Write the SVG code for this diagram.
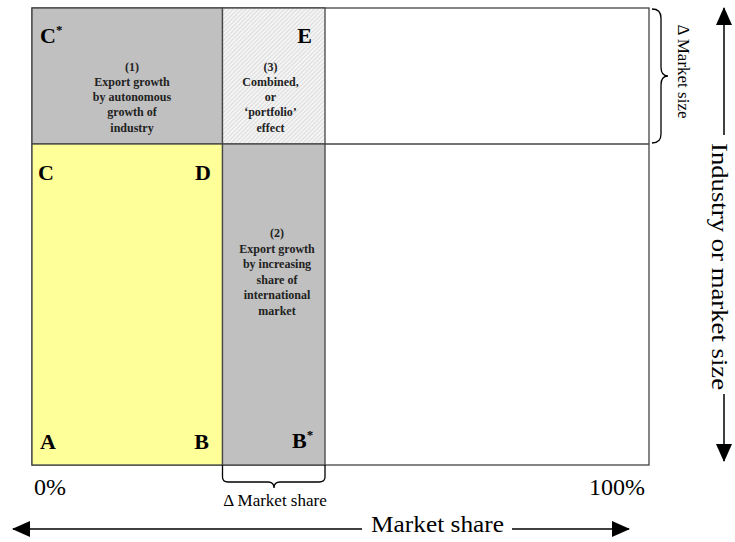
<svg xmlns="http://www.w3.org/2000/svg" width="735" height="542" viewBox="0 0 735 542">
<style>
.big{font-family:"Liberation Serif",serif;font-weight:bold;font-size:22px;fill:#000}
.sup{font-size:13px}
.sm{font-family:"Liberation Serif",serif;font-weight:bold;font-size:12px;fill:#222;text-anchor:middle}
.ax{font-family:"Liberation Serif",serif;font-size:24px;fill:#000}
.lbl{font-family:"Liberation Serif",serif;font-size:17px;fill:#000}
.cell{stroke:#444;stroke-width:1.3}
.ln{stroke:#000;stroke-width:1.5;fill:none}
.br{stroke:#000;stroke-width:1.3;fill:none}
</style>
<defs>
<pattern id="hatch" width="3" height="3" patternUnits="userSpaceOnUse" patternTransform="rotate(45)">
<rect width="3" height="3" fill="#f4f4f4"/>
<line x1="0" y1="0" x2="0" y2="3" stroke="#c4c4c4" stroke-width="1"/>
</pattern>
<marker id="ah" markerWidth="18" markerHeight="18" refX="17" refY="9" orient="auto" markerUnits="userSpaceOnUse" viewBox="0 0 18 18">
<path d="M0,1 L18,9 L0,17 z" fill="#000"/>
</marker>
</defs>
<rect x="0" y="0" width="735" height="542" fill="#fff"/>
<g id="grid">
<rect id="r-outer" class="cell" x="32" y="8" width="617" height="457" fill="#fff"/>
<rect id="r1" class="cell" x="32" y="8" width="190.5" height="136" fill="#c0c0c0"/>
<rect id="r3" class="cell" x="222.5" y="8" width="102.5" height="136" fill="url(#hatch)"/>
<rect id="rABCD" class="cell" x="32" y="144" width="190.5" height="321" fill="#ffff99"/>
<rect id="r2" class="cell" x="222.5" y="144" width="102.5" height="321" fill="#c0c0c0"/>
<line class="cell" x1="325" y1="144" x2="649" y2="144"/>
</g>
<g id="labels">
<text class="big" x="40" y="43">C<tspan class="sup" dy="-9">*</tspan></text>
<text class="big" x="312" y="43" text-anchor="end">E</text>
<text class="big" x="38" y="180">C</text>
<text class="big" x="211" y="180" text-anchor="end">D</text>
<text class="big" x="40" y="449">A</text>
<text class="big" x="209" y="449" text-anchor="end">B</text>
<text class="big" x="292" y="448">B<tspan class="sup" dy="-9">*</tspan></text>
</g>
<g id="n1">
<text class="sm" x="132" y="71">(1)</text>
<text class="sm" x="132" y="86">Export growth</text>
<text class="sm" x="132" y="101">by autonomous</text>
<text class="sm" x="132" y="116">growth of</text>
<text class="sm" x="132" y="132">industry</text>
</g>
<g id="n3">
<text class="sm" x="270.5" y="71">(3)</text>
<text class="sm" x="270.5" y="86">Combined,</text>
<text class="sm" x="270.5" y="101">or</text>
<text class="sm" x="270.5" y="116">‘portfolio’</text>
<text class="sm" x="270.5" y="132">effect</text>
</g>
<g id="n2">
<text class="sm" x="277" y="237">(2)</text>
<text class="sm" x="277" y="253">Export growth</text>
<text class="sm" x="277" y="268">by increasing</text>
<text class="sm" x="277" y="284">share of</text>
<text class="sm" x="277" y="299">international</text>
<text class="sm" x="277" y="315">market</text>
</g>
<g id="axes">
<text class="ax" x="34" y="495">0%</text>
<text class="ax" x="645" y="495" text-anchor="end">100%</text>
<text class="lbl" x="275" y="506" text-anchor="middle">Δ Market share</text>
<text class="ax" x="437.5" y="532" font-size="25" text-anchor="middle" textLength="133" lengthAdjust="spacingAndGlyphs">Market share</text>
<text class="lbl" transform="translate(678,71.5) rotate(90)" text-anchor="middle">Δ Market size</text>
<text class="ax" transform="translate(712,266.5) rotate(90)" font-size="22" text-anchor="middle" textLength="247" lengthAdjust="spacingAndGlyphs">Industry or market size</text>
</g>
<g id="connectors">
<path class="br" d="M222.5,465 L222.5,477 Q222.5,482 228,482 L268,482 Q274,482 274,488 Q274,482 280,482 L319,482 Q325,482 325,477 L325,465"/>
<path class="br" d="M652,9 Q661,9 661,18 L661,67 Q661,76 668,76 Q661,76 661,85 L661,134 Q661,143 652,143"/>
<line class="ln" x1="362" y1="529" x2="13" y2="529" marker-end="url(#ah)"/>
<line class="ln" x1="512" y1="529" x2="629" y2="529" marker-end="url(#ah)"/>
<line class="ln" x1="724" y1="135" x2="724" y2="8" marker-end="url(#ah)"/>
<line class="ln" x1="724" y1="394" x2="724" y2="461" marker-end="url(#ah)"/>
</g>
</svg>
